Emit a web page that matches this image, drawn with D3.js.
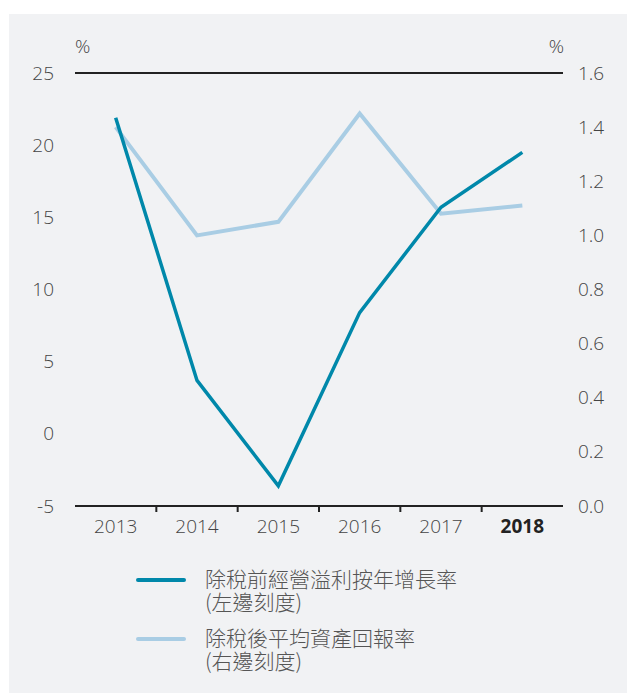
<!DOCTYPE html>
<html lang="zh-Hant">
<head>
<meta charset="UTF-8">
<title>除稅前經營溢利按年增長率</title>
<script src="https://d3js.org/d3.v7.min.js"></script>
<style>
    body { margin: 0; background: #ffffff; }
    svg text { font-family: "Open Sans", "Noto Sans", sans-serif; font-weight: 300; fill: #444; }
    .legend text { font-family: "Noto Sans CJK TC", "Noto Sans CJK SC", sans-serif; font-weight: 300; fill: #555; }
</style>
</head>
<body>
<div id="chart"></div>
<script>
// Datos
const years = ["2013", "2014", "2015", "2016", "2017", "2018"];
const profitGrowth = [21.9, 3.7, -3.6, 8.4, 15.7, 19.5];   // eje izquierdo
const returnOnAssets = [1.40, 1.00, 1.05, 1.45, 1.08, 1.11]; // eje derecho
const leftTicks = [-5, 0, 5, 10, 15, 20, 25];
const rightTicks = [0.0, 0.2, 0.4, 0.6, 0.8, 1.0, 1.2, 1.4, 1.6];
const legendLabels = [
    ["除稅前經營溢利按年增長率", "(左邊刻度)"],
    ["除稅後平均資產回報率", "(右邊刻度)"]
];

const W = 627, H = 693;
const plotLeft = 75, plotRight = 563, plotTop = 73, plotBottom = 506;
const darkBlue = "#0088aa", lightBlue = "#a9cde4";

const svg = d3.select("#chart").append("svg")
    .attr("width", W)
    .attr("height", H);

// Fondo gris
svg.append("rect")
    .attr("x", 9).attr("y", 14)
    .attr("width", W - 9).attr("height", H - 14)
    .attr("fill", "#f1f2f4");

// Escalas
const x = d3.scaleBand().domain(years).range([plotLeft, plotRight]).padding(0);
const yL = d3.scaleLinear().domain([-5, 25]).range([plotBottom, plotTop]);
const yR = d3.scaleLinear().domain([0, 1.6]).range([plotBottom, plotTop]);

// Eje izquierdo (guion normal en "-5")
svg.append("g")
    .attr("transform", "translate(54,0)")
    .call(d3.axisLeft(yL).tickValues(leftTicks).tickSize(0).tickPadding(0).tickFormat(d => String(d)))
    .call(g => g.select(".domain").remove())
    .selectAll("text").style("font-size", "19px");

// Eje derecho
svg.append("g")
    .attr("transform", "translate(578,0)")
    .call(d3.axisRight(yR).tickValues(rightTicks).tickSize(0).tickPadding(0).tickFormat(d3.format(".1f")))
    .call(g => g.select(".domain").remove())
    .selectAll("text").style("font-size", "19px");

// Unidades
svg.append("text").attr("x", 75).attr("y", 53).style("font-size", "19px").text("%");
svg.append("text").attr("x", 564).attr("y", 53).attr("text-anchor", "end").style("font-size", "19px").text("%");

// Líneas superior e inferior
[plotTop, plotBottom].forEach(yy => {
    svg.append("line")
        .attr("x1", plotLeft).attr("x2", plotRight)
        .attr("y1", yy).attr("y2", yy)
        .attr("stroke", "#222").attr("stroke-width", 2);
});

// Marcas entre categorías
svg.selectAll(".tick-mark")
    .data(years.slice(1))
    .enter().append("line")
    .attr("class", "tick-mark")
    .attr("x1", d => x(d)).attr("x2", d => x(d))
    .attr("y1", plotBottom).attr("y2", plotBottom + 6)
    .attr("stroke", "#222").attr("stroke-width", 2);

// Etiquetas de años
const xAxis = svg.append("g")
    .attr("transform", `translate(0,${plotBottom})`)
    .call(d3.axisBottom(x).tickSize(0).tickPadding(14))
    .call(g => g.select(".domain").remove());
xAxis.selectAll("text")
    .style("font-size", "19px")
    .style("font-weight", d => d === "2018" ? "700" : "300")
    .style("fill", d => d === "2018" ? "#222" : "#444");

// Líneas de datos
const cx = d => x(d) + x.bandwidth() / 2;

const lineR = d3.line()
    .x((d, i) => cx(years[i]))
    .y(d => yR(d));
const lineL = d3.line()
    .x((d, i) => cx(years[i]))
    .y(d => yL(d));

svg.append("path")
    .datum(returnOnAssets)
    .attr("fill", "none")
    .attr("stroke", lightBlue)
    .attr("stroke-width", 4)
    .attr("d", lineR);

svg.append("path")
    .datum(profitGrowth)
    .attr("fill", "none")
    .attr("stroke", darkBlue)
    .attr("stroke-width", 3.5)
    .attr("d", lineL);

// Leyenda
const legend = svg.append("g").attr("class", "legend");
const legendColors = [darkBlue, lightBlue];
const legendY = [580, 639];

legendLabels.forEach((lines, i) => {
    legend.append("line")
        .attr("x1", 138).attr("x2", 184)
        .attr("y1", legendY[i]).attr("y2", legendY[i])
        .attr("stroke", legendColors[i])
        .attr("stroke-width", 4)
        .attr("stroke-linecap", "round");
    const t = legend.append("text")
        .attr("y", legendY[i] + 7)
        .style("font-size", "21px");
    lines.forEach((s, j) => {
        t.append("tspan")
            .attr("x", 205)
            .attr("dy", j === 0 ? 0 : 23)
            .text(s);
    });
});
</script>
</body>
</html>
